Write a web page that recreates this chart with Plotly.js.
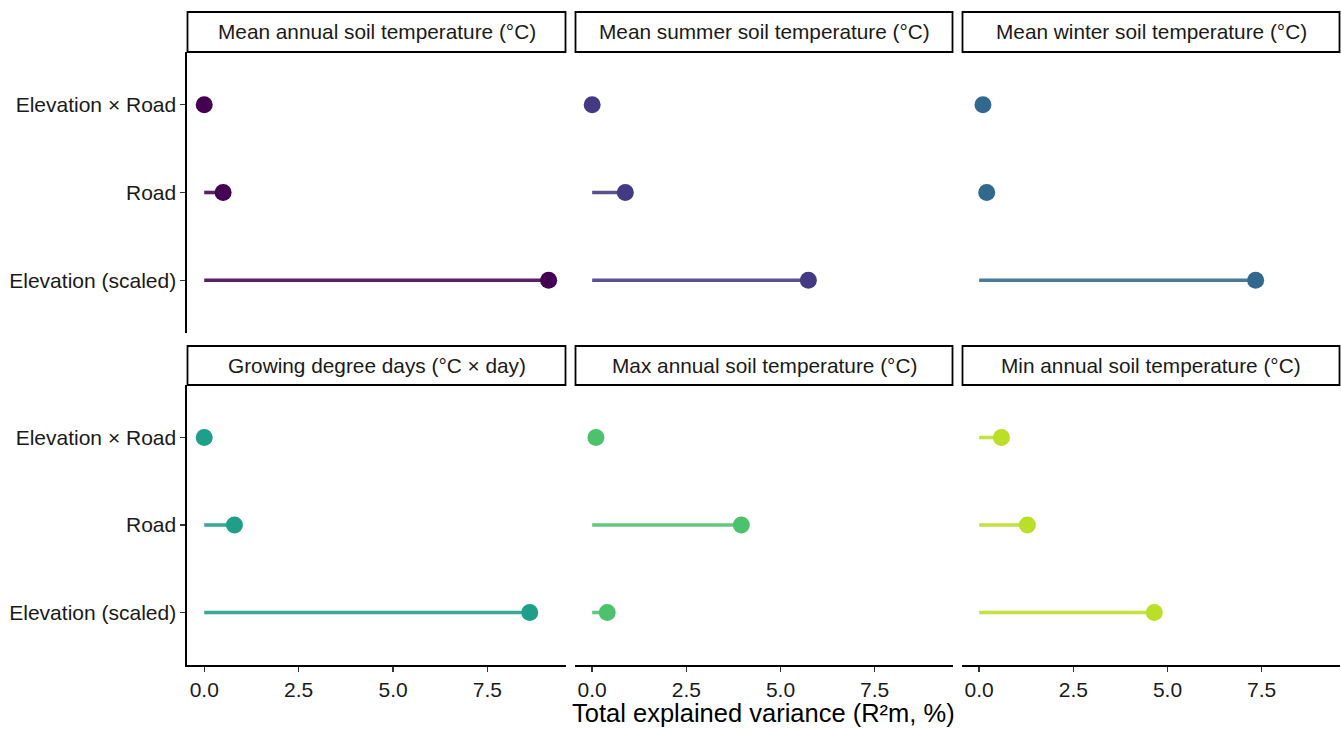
<!DOCTYPE html>
<html>
<head>
<meta charset="utf-8">
<script src="https://cdn.plot.ly/plotly-3.0.1.min.js"></script>
<style>html,body{margin:0;padding:0;background:#fff;}#chart{width:1341px;height:729px;}</style>
</head>
<body>
<div id="chart"></div>
<script>
// ---- data ----
const panelTitles = [
  "Mean annual soil temperature (°C)",
  "Mean summer soil temperature (°C)",
  "Mean winter soil temperature (°C)",
  "Growing degree days (°C × day)",
  "Max annual soil temperature (°C)",
  "Min annual soil temperature (°C)"
];
const predictors = ["Elevation × Road", "Road", "Elevation (scaled)"];
// values in order of predictors, one array per panel
const meanAnnual = [0.0, 0.5, 9.12];
const meanSummer = [0.0, 0.88, 5.74];
const meanWinter = [0.1, 0.2, 7.34];
const gdd        = [0.0, 0.8, 8.62];
const maxAnnual  = [0.1, 3.96, 0.4];
const minAnnual  = [0.59, 1.28, 4.65];
const panelValues = [meanAnnual, meanSummer, meanWinter, gdd, maxAnnual, minAnnual];
const panelColors = ["#440154", "#443A83", "#31688E", "#1F9E89", "#4CC26C", "#BBDF27"];
const xTickVals = [0, 2.5, 5, 7.5];
const xTickText = ["0.0", "2.5", "5.0", "7.5"];
const xTitle = "Total explained variance (R²m, %)";

// ---- layout geometry (pixels) ----
const W = 1341, H = 729;
const cols = [[187, 566], [575, 953], [962, 1340]];
const rows = [[52, 333], [385, 665]];
const strips = [[12, 52], [346, 385]];
const fx = p => p / W;
const fy = p => 1 - p / H;

const traces = [];
const layout = {
  width: W, height: H,
  margin: {l: 0, r: 0, t: 0, b: 0},
  paper_bgcolor: "#fff", plot_bgcolor: "#fff",
  showlegend: false,
  font: {family: "Liberation Sans, Arial, sans-serif", color: "#000"},
  shapes: [], annotations: []
};

const fontTick = {family: "Liberation Sans, Arial, sans-serif", size: 21, color: "#1a1a1a"};

for (let i = 0; i < 6; i++) {
  const r = Math.floor(i / 3), c = i % 3;
  const n = i + 1;
  const xa = "x" + (n === 1 ? "" : n), ya = "y" + (n === 1 ? "" : n);
  const xk = "xaxis" + (n === 1 ? "" : n), yk = "yaxis" + (n === 1 ? "" : n);
  const vals = panelValues[i];
  const col = panelColors[i];
  predictors.forEach((p, k) => {
    traces.push({
      type: "scatter", mode: "lines", x: [0, vals[k]], y: [p, p],
      xaxis: xa, yaxis: ya, line: {color: col, width: 3.6}, opacity: 0.88,
      hoverinfo: "skip", cliponaxis: false
    });
  });
  traces.push({
    type: "scatter", mode: "markers", x: vals, y: predictors,
    xaxis: xa, yaxis: ya, marker: {color: col, size: 17, line: {width: 0}},
    cliponaxis: false
  });
  const bottom = r === 1, left = c === 0;
  layout[xk] = {
    domain: [fx(cols[c][0]), fx(cols[c][1])],
    anchor: ya, range: [-0.456, 9.58], fixedrange: true,
    showgrid: false, zeroline: false,
    showline: bottom, linecolor: "#000", linewidth: 1.6,
    ticks: bottom ? "outside" : "", ticklen: 5, tickwidth: 1.4, tickcolor: "#333",
    tickmode: "array", tickvals: xTickVals, ticktext: xTickText,
    showticklabels: bottom, tickfont: fontTick
  };
  layout[yk] = {
    domain: [fy(rows[r][1]), fy(rows[r][0])],
    anchor: xa, type: "category",
    categoryorder: "array", categoryarray: predictors.slice().reverse(),
    range: [-0.6, 2.6], fixedrange: true,
    showgrid: false, zeroline: false,
    showline: left, linecolor: "#000", linewidth: 1.6,
    ticks: left ? "outside" : "", ticklen: 5, tickwidth: 1.4, tickcolor: "#333",
    showticklabels: left, tickfont: fontTick
  };
  // strip
  layout.shapes.push({
    type: "rect", xref: "paper", yref: "paper",
    x0: fx(cols[c][0] + 0.5), x1: fx(cols[c][1] - 0.5),
    y0: fy(strips[r][1]), y1: fy(strips[r][0]),
    line: {color: "#000", width: 1.8}, fillcolor: "#fff"
  });
  layout.annotations.push({
    xref: "paper", yref: "paper",
    x: fx((cols[c][0] + cols[c][1]) / 2), y: fy((strips[r][0] + strips[r][1]) / 2),
    xanchor: "center", yanchor: "middle", showarrow: false,
    text: panelTitles[i],
    font: {family: "Liberation Sans, Arial, sans-serif", size: 20.8, color: "#1a1a1a"}
  });
}
layout.annotations.push({
  xref: "paper", yref: "paper",
  x: fx((cols[0][0] + cols[2][1]) / 2), y: fy(713),
  xanchor: "center", yanchor: "middle", showarrow: false,
  text: xTitle,
  font: {family: "Liberation Sans, Arial, sans-serif", size: 25.5, color: "#000"}
});

Plotly.newPlot("chart", traces, layout, {displayModeBar: false, staticPlot: true});
</script>
</body>
</html>
